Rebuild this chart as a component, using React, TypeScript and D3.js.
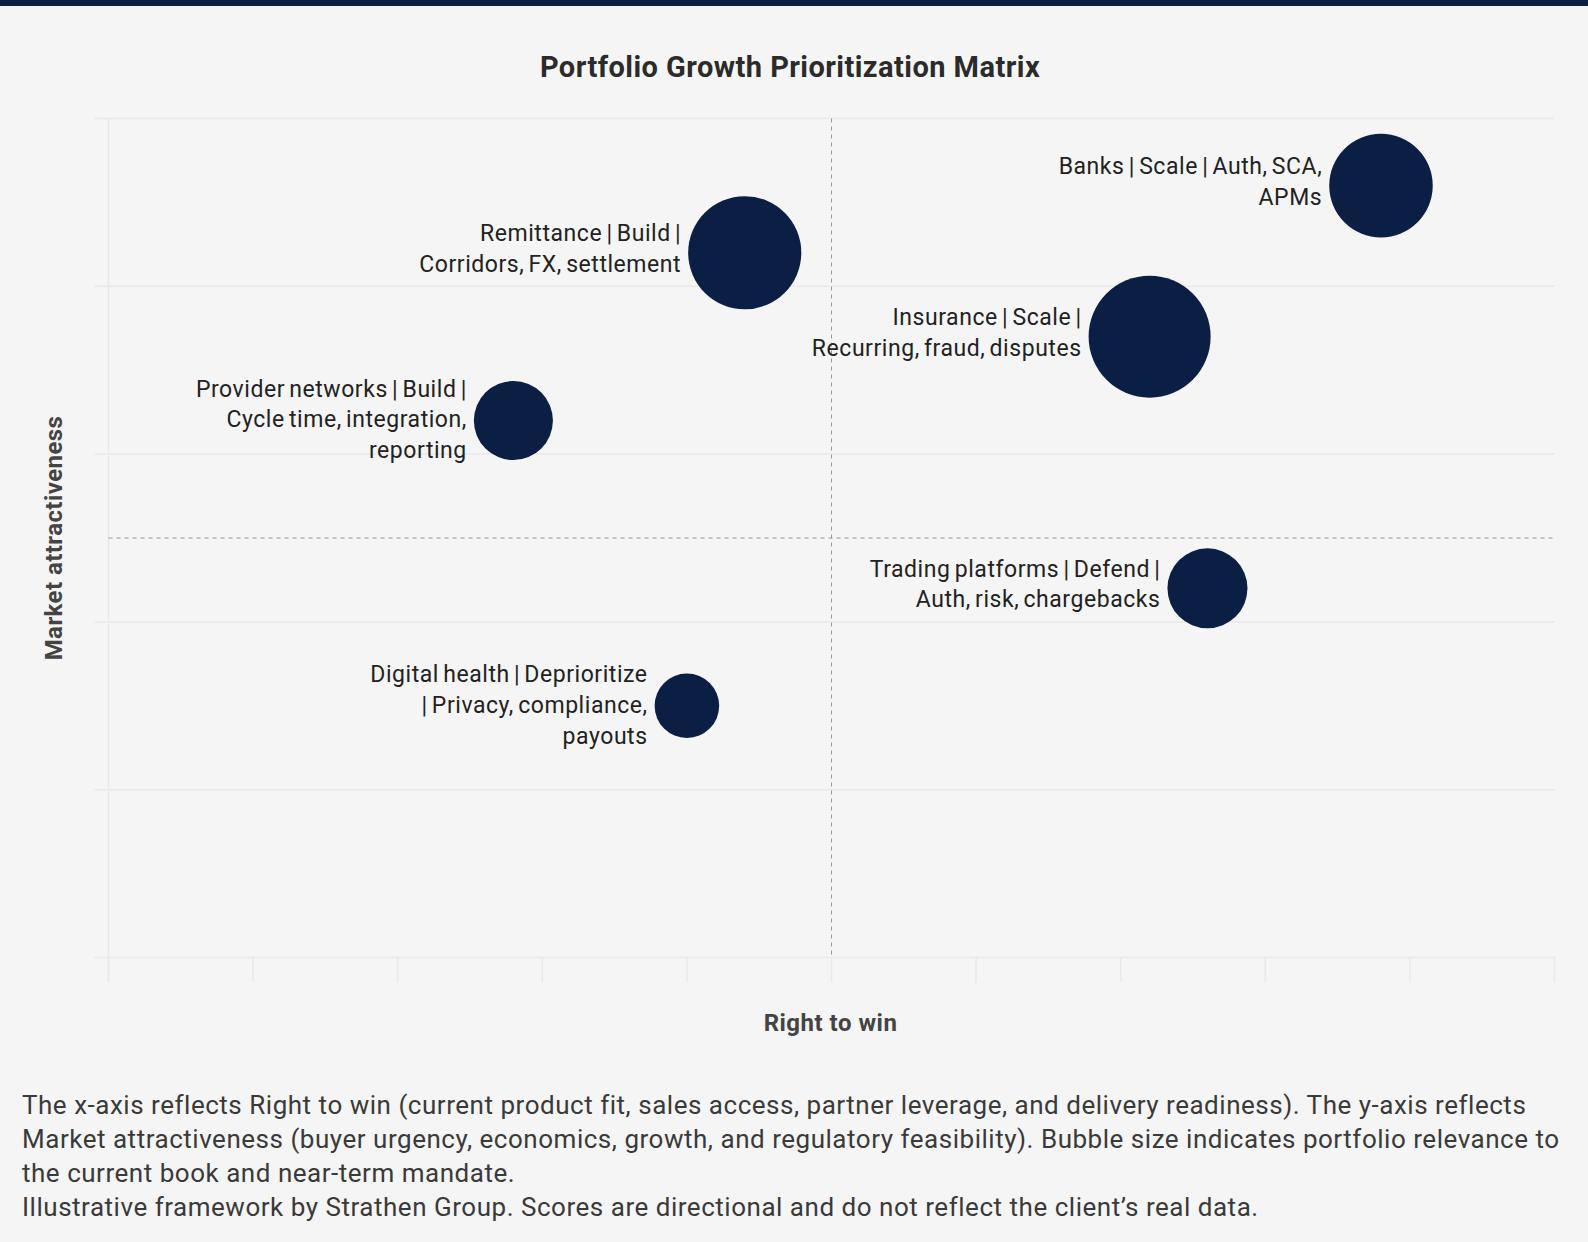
import React from "react";
import * as d3 from "d3";

const title = "Portfolio Growth Prioritization Matrix";
const xAxisLabel = "Right to win";
const yAxisLabel = "Market attractiveness";

const segments = ["Banks", "Remittance", "Insurance", "Provider networks", "Trading platforms", "Digital health"];
const labels = [
  "Banks | Scale | Auth, SCA,\nAPMs",
  "Remittance | Build |\nCorridors, FX, settlement",
  "Insurance | Scale |\nRecurring, fraud, disputes",
  "Provider networks | Build |\nCycle time, integration,\nreporting",
  "Trading platforms | Defend |\nAuth, risk, chargebacks",
  "Digital health | Deprioritize\n| Privacy, compliance,\npayouts",
];
const rightToWin = [8.8, 4.4, 7.2, 2.8, 7.6, 4.0];
const marketAttractiveness = [9.2, 8.4, 7.4, 6.4, 4.4, 3.0];
const relevance = [7.2, 8.6, 10, 4.2, 4.3, 2.8];

const xTicks = [0, 1, 2, 3, 4, 5, 6, 7, 8, 9, 10];
const yTicks = [0, 2, 4, 6, 8, 10];
const midX = 5;
const midY = 5;

const footerLines = [
  "The x-axis reflects Right to win (current product fit, sales access, partner leverage, and delivery readiness). The y-axis reflects",
  "Market attractiveness (buyer urgency, economics, growth, and regulatory feasibility). Bubble size indicates portfolio relevance to",
  "the current book and near-term mandate.",
  "Illustrative framework by Strathen Group. Scores are directional and do not reflect the client\u2019s real data.",
];

const W = 1588;
const H = 1242;
const NAVY = "#0b1f44";
const GRID = "#e9e9e9";
const FONT = "Roboto, 'Noto Sans', sans-serif";

export default function App() {
  const left = 108.5;
  const right = 1554.5;
  const top = 118.5;
  const bottom = 957.5;
  const x = d3.scaleLinear().domain([0, 10]).range([left, right]);
  const y = d3.scaleLinear().domain([0, 10]).range([bottom, top]);
  const r = d3.scaleSqrt().domain([0, 10]).range([0, 61]);

  return (
    <div style={{ position: "absolute", left: 0, top: 0, width: W, height: H, background: "#f5f5f5", overflow: "hidden" }}>
      <svg width={W} height={H} style={{ display: "block", fontFamily: FONT }}>
        <rect x={0} y={0} width={W} height={6} fill={NAVY} />
        <text x={790} y={77} textAnchor="middle" fontSize={29} fontWeight={700} fill="#2b2b2b" letterSpacing={0.45}>
          {title}
        </text>
        {yTicks.map((t) => (
          <line key={"gy" + t} x1={left - 14} x2={right} y1={y(t)} y2={y(t)} stroke={GRID} strokeWidth={1.5} />
        ))}
        <line x1={left} x2={left} y1={top} y2={bottom + 25} stroke={GRID} strokeWidth={1.5} />
        {xTicks.map((t) => (
          <line key={"gx" + t} x1={x(t)} x2={x(t)} y1={bottom} y2={bottom + 25} stroke={GRID} strokeWidth={1.5} />
        ))}
        <line x1={x(midX)} x2={x(midX)} y1={top} y2={bottom} stroke="#999" strokeWidth={1} strokeDasharray="4,4" />
        <line x1={left} x2={right} y1={y(midY)} y2={y(midY)} stroke="#999" strokeWidth={1} strokeDasharray="4,4" />
        {segments.map((s, i) => {
          const cx = x(rightToWin[i]);
          const cy = y(marketAttractiveness[i]);
          const rr = r(relevance[i]);
          const lines = labels[i].split("\n");
          const lh = 30.8;
          const y0 = cy - 7.5 - (lines.length - 1) * 12.2;
          return (
            <g key={s}>
              <circle cx={cx} cy={cy} r={rr} fill={NAVY} />
              <text
                textAnchor="end"
                fontSize={23}
                fill="#222"
                dominantBaseline="central"
                letterSpacing={0.55}
                wordSpacing={-2}
              >
                {lines.map((l, j) => (
                  <tspan key={j} x={cx - rr - 7} y={y0 + j * lh}>
                    {l}
                  </tspan>
                ))}
              </text>
            </g>
          );
        })}
        <text x={830.5} y={1031} textAnchor="middle" fontSize={24} fontWeight={700} fill="#444" letterSpacing={0.5}>
          {xAxisLabel}
        </text>
        <text
          transform={`translate(62, ${(top + bottom) / 2}) rotate(-90)`}
          textAnchor="middle"
          fontSize={24}
          fontWeight={700}
          fill="#444"
          letterSpacing={0.43}
        >
          {yAxisLabel}
        </text>
        {footerLines.map((l, i) => (
          <text key={i} x={22} y={1114 + i * 34} fontSize={26} fill="#3a3a3a" letterSpacing={0.52}>
            {l}
          </text>
        ))}
      </svg>
    </div>
  );
}
